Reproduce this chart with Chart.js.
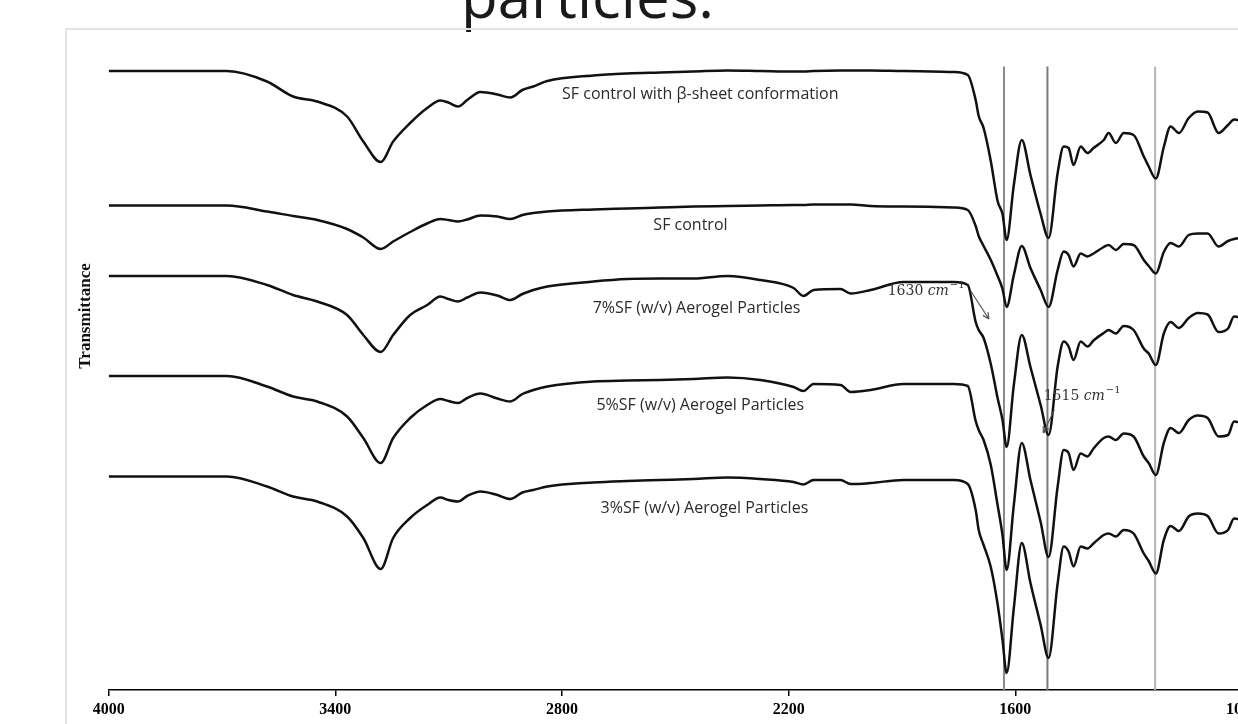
<!DOCTYPE html>
<html>
<head>
<meta charset="utf-8">
<script src="https://cdn.jsdelivr.net/npm/chart.js@4.4.1/dist/chart.umd.min.js"></script>
<style>
  html, body { margin: 0; padding: 0; background: #fff; overflow: hidden; width: 1238px; height: 724px; }
  #caption { position: absolute; left: 461px; top: -35px; font: 60px "Open Sans", sans-serif; line-height: 60px; color: #1a1a1a; white-space: nowrap; }
  #frame { position: absolute; left: 65px; top: 28px; width: 1400px; height: 900px; border: 2px solid #e4e4e4; }
  #ftir { position: absolute; left: 67px; top: 30px; }
</style>
</head>
<body>
<div id="caption">particles.</div>
<div id="frame"></div>
<canvas id="ftir" width="1300" height="694"></canvas>
<script>
// ===== data: wavenumber grid (cm-1) and transmittance traces (offset, arbitrary units) =====
const wavenumbers = [4000, 3687, 3581, 3512, 3448, 3369, 3326, 3280, 3247, 3202,
  3157, 3122, 3101, 3075, 3051, 3016, 2971, 2937, 2905, 2876,
  2839, 2717, 2627, 2540, 2452, 2362, 2275, 2187, 2161, 2134,
  2063, 2036, 1983, 1896, 1763, 1726, 1705, 1697, 1684, 1665,
  1647, 1634, 1623, 1604, 1583, 1560, 1533, 1512, 1488, 1472,
  1459, 1446, 1427, 1409, 1393, 1366, 1353, 1334, 1313, 1287,
  1260, 1247, 1228, 1207, 1189, 1167, 1141, 1117, 1091, 1062,
  1037, 1021, 1000];

const sfBetaSheet = [123.8, 123.8, 121.7, 118.7, 117.7, 114.7, 109.7, 105.6, 109.7, 113.4,
  116.4, 117.9, 117.5, 116.7, 118, 119.6, 119.1, 118.5, 120, 120.7,
  121.8, 122.9, 123.3, 123.5, 123.7, 123.9, 123.8, 123.7, 123.7, 123.8,
  123.9, 123.9, 123.9, 123.8, 123.6, 123, 118, 114.8, 112.4, 105.8,
  97.8, 95.2, 90, 101, 110, 103, 95.2, 90.4, 103.4, 108.7,
  108.4, 105, 108.7, 107.4, 108.4, 110, 111.4, 109.4, 111.4, 111,
  106.7, 104.7, 102.3, 108.6, 112.7, 111.4, 114.4, 115.7, 115.5, 111.4,
  113, 114.1, 113.8];

const sfControl = [96.9, 96.9, 95.7, 94.8, 94, 92.2, 90.5, 88.2, 89.7, 91.6,
  93.3, 94.2, 94, 93.7, 94.1, 94.9, 94.7, 94.2, 95, 95.4,
  95.7, 96.1, 96.3, 96.5, 96.7, 96.8, 96.9, 97, 97, 97.1,
  97.1, 97.1, 96.8, 96.7, 96.5, 96, 92.8, 90.8, 88.8, 86,
  82.8, 80.2, 76.6, 83, 88.8, 84.4, 80, 76.6, 84, 87.7,
  87, 84.7, 87.3, 86.7, 87.3, 88.6, 89, 88, 89.2, 89,
  86, 84.8, 83.3, 87.6, 89.4, 88.7, 91, 91.3, 91.3, 88.7,
  89.8, 90.2, 90.4];

const sf7 = [82.8, 82.8, 81, 79, 77.7, 75, 71, 67.6, 71, 75,
  77, 78.7, 78.2, 77.7, 78.5, 79.5, 78.9, 78, 79.2, 80,
  80.7, 81.7, 82.2, 82.3, 82.3, 82.8, 82, 80.4, 78.8, 80,
  80.2, 79.3, 80, 81.6, 81.6, 81, 73.6, 72, 70.4, 65.2,
  58.4, 54, 48.6, 61, 71, 64.6, 57, 51, 64.7, 69.7,
  68.7, 66, 69.7, 68.7, 69.9, 71.4, 72, 71.3, 72.8, 72,
  68.3, 67.3, 65, 71.3, 73.6, 72.4, 74.4, 75.4, 75.1, 71.6,
  72.3, 74.7, 74.4];

const sf5 = [62.8, 62.8, 60.7, 58.7, 57.7, 54.7, 50.4, 45.4, 50.4, 54.4,
  57, 58.2, 57.8, 57.4, 58.4, 59.3, 58.3, 57.7, 59.2, 60,
  60.7, 61.7, 61.9, 62, 62.2, 62.5, 62, 60.6, 59.8, 61.2,
  61, 59.6, 60, 61.2, 61.2, 60.8, 53.8, 52, 50, 45,
  37, 31, 24, 37, 49.4, 42, 33.6, 26.6, 40.7, 48,
  47.4, 44, 47.3, 46.7, 48.3, 50.4, 50.7, 50, 51.3, 50.7,
  46.7, 45.4, 43, 49.4, 52.4, 51.4, 54, 54.9, 54.4, 50.7,
  51, 53.7, 53.4];

const sf3 = [42.7, 42.7, 40.7, 38.7, 37.7, 34.7, 30.4, 24.2, 30.4, 34.4,
  37, 38.5, 38, 37.7, 38.8, 39.7, 39, 38.2, 39.5, 40,
  40.7, 41.5, 41.8, 42, 42.2, 42.5, 42.2, 41.6, 41.1, 42,
  42, 41.2, 41.4, 42, 42, 41.2, 36, 32, 29, 24.6,
  17.2, 10, 3.4, 16.4, 29.4, 21.4, 13, 6.4, 21.3, 28.7,
  27.7, 24.7, 28.7, 28.3, 29.3, 31, 31.3, 30.7, 32, 31.3,
  27.3, 25.8, 23.3, 30, 32.8, 31.8, 34.7, 35.3, 34.8, 31.3,
  32, 34.3, 34];

const seriesNames = ["SF control with β-sheet conformation", "SF control",
  "7%SF (w/v) Aerogel Particles", "5%SF (w/v) Aerogel Particles", "3%SF (w/v) Aerogel Particles"];
const seriesValues = [sfBetaSheet, sfControl, sf7, sf5, sf3];

const xTicks = [4000, 3400, 2800, 2200, 1600, 1000];
const bandLines = [1630, 1515, 1230]; // vertical marker lines
const bandColors = ["#8a8a8a", "#7a7a7a", "#b4b4b4"];
const bandTop = 124.7;

// ===== datasets =====
const datasets = [];
for (let i = 0; i < seriesValues.length; i++) {
  datasets.push({
    label: seriesNames[i],
    data: seriesValues[i].map((v, j) => ({ x: wavenumbers[j], y: v })),
    borderColor: "#111",
    borderWidth: 2.5,
    pointRadius: 0,
    cubicInterpolationMode: "monotone",
    order: 1,
  });
}
for (let i = 0; i < bandLines.length; i++) {
  datasets.push({
    label: "band " + bandLines[i],
    data: [{ x: bandLines[i], y: 0 }, { x: bandLines[i], y: bandTop }],
    borderColor: bandColors[i],
    borderWidth: 2,
    pointRadius: 0,
    order: 2,
  });
}

// text labels placed in data units (wavenumber, transmittance)
const textLabels = [
  { wn: 2434, t: 119.2, text: seriesNames[0] },
  { wn: 2460, t: 93, text: seriesNames[1] },
  { wn: 2444, t: 76.4, text: seriesNames[2] },
  { wn: 2434, t: 57, text: seriesNames[3] },
  { wn: 2423, t: 36.4, text: seriesNames[4] },
];
const peakNotes = [
  { wn: 1938, t: 79.8, num: "1630 ", from: [1718, 79.8], to: [1670, 74.2] },
  { wn: 1525, t: 58.8, num: "1515 ", from: [1497, 56], to: [1526, 51.4] },
];

function arrow(ctx, x1, y1, x2, y2) {
  const a = Math.atan2(y2 - y1, x2 - x1);
  ctx.beginPath();
  ctx.moveTo(x1, y1);
  ctx.lineTo(x2, y2);
  ctx.moveTo(x2, y2);
  ctx.lineTo(x2 - 7 * Math.cos(a - 0.45), y2 - 7 * Math.sin(a - 0.45));
  ctx.moveTo(x2, y2);
  ctx.lineTo(x2 - 7 * Math.cos(a + 0.45), y2 - 7 * Math.sin(a + 0.45));
  ctx.stroke();
}

const notesPlugin = {
  id: "notes",
  afterDatasetsDraw(chart) {
    const ctx = chart.ctx;
    const xs = chart.scales.x;
    const ys = chart.scales.y;
    ctx.save();
    // series names
    ctx.fillStyle = "#2b2b2b";
    ctx.font = '16px "Open Sans", sans-serif';
    ctx.textAlign = "center";
    ctx.textBaseline = "middle";
    textLabels.forEach((l) => {
      ctx.fillText(l.text, xs.getPixelForValue(l.wn), ys.getPixelForValue(l.t));
    });
    // peak notes
    ctx.textAlign = "left";
    ctx.strokeStyle = "#555";
    ctx.lineWidth = 1.2;
    peakNotes.forEach((n) => {
      let x = xs.getPixelForValue(n.wn);
      const y = ys.getPixelForValue(n.t);
      ctx.fillStyle = "#333";
      ctx.font = '14px "DejaVu Serif", serif';
      ctx.fillText(n.num, x, y);
      x += ctx.measureText(n.num).width;
      ctx.font = 'italic 14px "DejaVu Serif", serif';
      ctx.fillText("cm", x, y);
      x += ctx.measureText("cm").width;
      ctx.font = '10px "DejaVu Serif", serif';
      ctx.fillText("\u22121", x + 1, y - 6);
      arrow(ctx, xs.getPixelForValue(n.from[0]), ys.getPixelForValue(n.from[1]),
        xs.getPixelForValue(n.to[0]), ys.getPixelForValue(n.to[1]));
    });
    // y axis title
    ctx.translate(19, 286);
    ctx.rotate(-Math.PI / 2);
    ctx.textAlign = "center";
    ctx.fillStyle = "#111";
    ctx.font = 'bold 17px "Liberation Serif", serif';
    ctx.fillText("Transmittance", 0, 0);
    ctx.restore();
  },
};

const config = {
  type: "line",
  data: { datasets: datasets },
  options: {
    responsive: false,
    animation: false,
    devicePixelRatio: 1,
    layout: { padding: { top: 10, right: 125, left: 0, bottom: 0 } },
    plugins: {
      legend: { display: false },
      tooltip: { enabled: false },
    },
    scales: {
      x: {
        type: "linear",
        reverse: true,
        min: 1000,
        max: 4000,
        afterBuildTicks: (scale) => {
          scale.ticks = xTicks.map((v) => ({ value: v }));
        },
        afterFit: (scale) => {
          scale.height = 34;
        },
        ticks: {
          color: "#000",
          padding: 4,
          maxRotation: 0,
          font: { family: "Liberation Serif", size: 16, weight: "bold" },
          callback: (v) => String(v),
        },
        grid: { drawOnChartArea: false, drawTicks: true, tickLength: 6, color: "#000", lineWidth: 1.5 },
        border: { display: true, color: "#000", width: 1.5 },
      },
      y: {
        min: 0,
        max: 130,
        afterFit: (scale) => {
          scale.width = 41.7;
        },
        ticks: { display: false },
        grid: { display: false },
        border: { display: false },
      },
    },
  },
  plugins: [notesPlugin],
};

let ftirChart = new Chart(document.getElementById("ftir"), config);
</script>
</body>
</html>
